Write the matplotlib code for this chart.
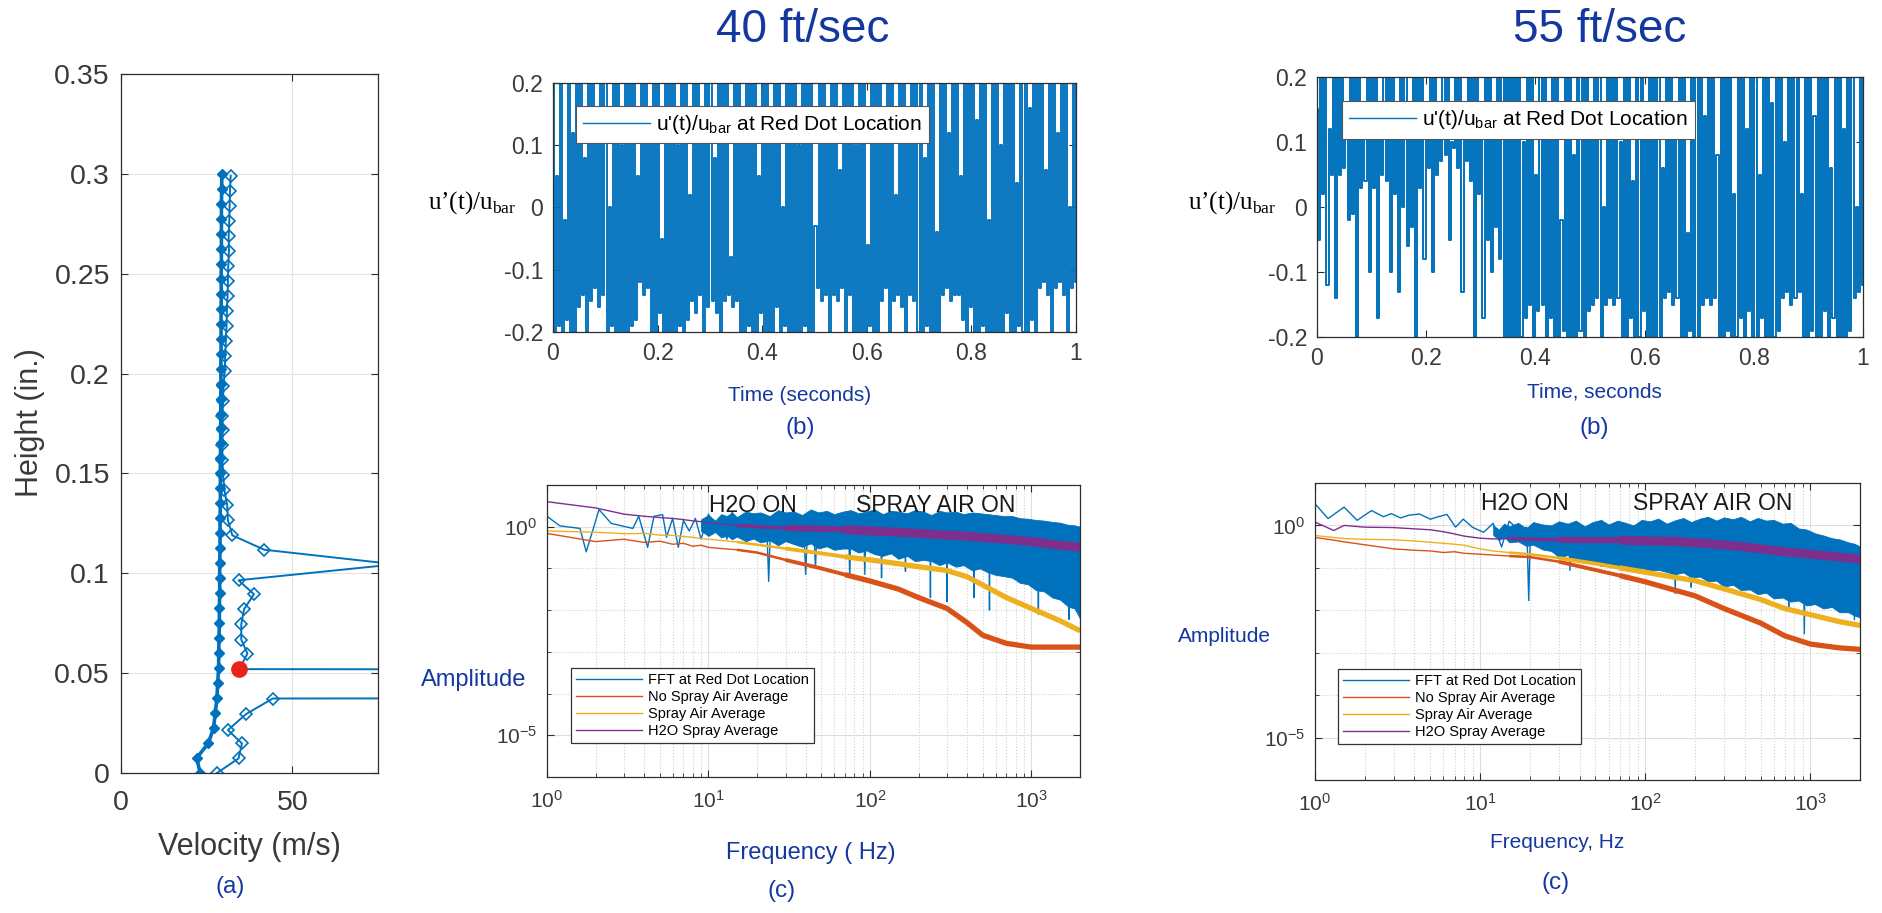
import numpy as np
import matplotlib
matplotlib.use('Agg')
import matplotlib.pyplot as plt
from matplotlib.ticker import FixedLocator, NullFormatter, LogFormatterSciNotation

plt.rcParams['font.family'] = ['Liberation Sans', 'DejaVu Sans']
plt.rcParams['mathtext.fontset'] = 'custom'
plt.rcParams['mathtext.rm'] = 'Liberation Serif'
plt.rcParams['mathtext.sf'] = 'Liberation Sans'
plt.rcParams['axes.unicode_minus'] = False

W, H = 1883, 913
BLUE, ORANGE, YELLOW, PURPLE = '#0072BD', '#D95319', '#EDB120', '#7E2F8E'
NAVY = '#1438a0'
INK = '#3a3a3a'

# ---- (a) velocity profile ----
inner_h = [0, .0075, .015, .0225, .03, .0375, .045, .0525, .06, .0675, .075, .0825, .09, .0975,
           .105, .1125, .12, .1275, .135, .1425, .15, .1575, .165, .1725, .18, .1875, .195, .2025,
           .21, .2175, .225, .2325, .24, .2475, .255, .2625, .27, .2775, .285, .2925, .3]
inner_v = [23.1, 22.1, 25.5, 27.0, 27.5, 28.0, 28.2, 28.5, 28.5, 28.6, 28.7, 28.7, 28.8, 28.8,
           28.8, 28.9, 28.9, 28.9, 29.0, 29.0, 29.0, 29.0, 29.1, 29.1, 29.1, 29.1, 29.2, 29.1,
           29.2, 29.2, 29.2, 29.2, 29.3, 29.2, 29.3, 29.3, 29.3, 29.3, 29.3, 29.4, 29.4]
outer_h = [0.0, 0.0073, 0.0148, 0.0215, 0.0295, 0.0373, 0.045, 0.052, 0.0598, 0.0668, 0.0745,
           0.082, 0.0895, 0.0965, 0.1045, 0.1118, 0.119, 0.1265, 0.134, 0.1415, 0.149, 0.1565,
           0.164, 0.1715, 0.179, 0.1865, 0.194, 0.2015, 0.209, 0.2165, 0.224, 0.2315, 0.239,
           0.2465, 0.254, 0.2615, 0.269, 0.2765, 0.284, 0.2915, 0.299]
outer_v = [28.0, 34.3, 35.3, 31.2, 36.5, 44.3, 5000.0, 34.5, 36.9, 35.1, 35.1,
           35.9, 38.8, 34.3, 80.0, 41.8, 32.5, 31.2, 31.0, 30.2, 29.8, 29.6,
           29.6, 29.7, 29.6, 29.8, 29.9, 30.3, 30.4, 30.6, 30.8, 30.9, 31.1,
           31.2, 31.3, 31.5, 31.4, 31.6, 31.7, 31.8, 32.0]
red_dot_v, red_dot_h = 34.5, 0.052
prof_xticks, prof_xlabels = [0, 50], ['0', '50']
prof_yticks = [0, 0.05, 0.1, 0.15, 0.2, 0.25, 0.3, 0.35]
prof_ylabels = ['0', '0.05', '0.1', '0.15', '0.2', '0.25', '0.3', '0.35']

# ---- (b) u'(t)/u_bar, alternating crest / trough samples ----
u40 = [0.3, -0.2, 0.05, -0.19, 0.3, -0.2, -0.02, -0.18, 0.3, -0.2, 0.12, -0.2, 0.3, -0.16, 0.3, -0.14, 0.08, -0.2, 0.3, -0.15,
       0.3, -0.13, 0.15, -0.16, 0.3, -0.14, 0.3, -0.2, 0.0, -0.19, 0.3, -0.2, 0.3, -0.21, 0.1, -0.2, 0.3, -0.2, 0.3, -0.19,
       0.3, -0.18, 0.05, -0.12, 0.3, -0.14, 0.3, -0.13, 0.12, -0.2, 0.3, -0.2, 0.3, -0.17, -0.05, -0.2, 0.3, -0.2, 0.3, -0.2,
       0.3, -0.2, 0.1, -0.19, 0.3, -0.2, 0.3, -0.18, 0.02, -0.15, 0.3, -0.17, 0.3, -0.14, 0.15, -0.2, 0.3, -0.16, 0.3, -0.15,
       0.08, -0.17, 0.3, -0.2, 0.3, -0.15, 0.3, -0.14, -0.08, -0.16, 0.3, -0.15, 0.3, -0.2, 0.12, -0.2, 0.3, -0.19, 0.3, -0.2,
       0.3, -0.2, 0.05, -0.17, 0.3, -0.2, 0.3, -0.2, 0.14, -0.2, 0.3, -0.16, 0.3, -0.2, 0.0, -0.19, 0.3, -0.2, 0.3, -0.2,
       0.3, -0.2, 0.1, -0.2, 0.3, -0.19, 0.3, -0.2, 0.3, -0.2, -0.03, -0.13, 0.3, -0.15, 0.3, -0.14, 0.16, -0.2, 0.3, -0.14,
       0.3, -0.15, 0.06, -0.13, 0.3, -0.2, 0.3, -0.14, 0.3, -0.2, 0.1, -0.2, 0.3, -0.21, 0.3, -0.2, -0.06, -0.19, 0.3, -0.2,
       0.3, -0.2, 0.3, -0.15, 0.12, -0.13, 0.3, -0.2, 0.3, -0.15, 0.02, -0.14, 0.3, -0.16, 0.3, -0.2, 0.15, -0.14, 0.3, -0.15,
       0.3, -0.2, 0.3, -0.2, 0.08, -0.19, 0.3, -0.2, 0.3, -0.2, -0.04, -0.2, 0.3, -0.14, 0.3, -0.13, 0.12, -0.15, 0.3, -0.14,
       0.3, -0.14, 0.05, -0.18, 0.3, -0.2, 0.3, -0.16, 0.3, -0.2, 0.14, -0.2, 0.3, -0.19, 0.3, -0.2, -0.02, -0.2, 0.3, -0.2,
       0.3, -0.2, 0.1, -0.2, 0.3, -0.17, 0.3, -0.2, 0.3, -0.2, 0.04, -0.19, 0.3, -0.2, 0.3, -0.2, 0.16, -0.18, 0.3, -0.2,
       0.3, -0.13, 0.3, -0.12, 0.06, -0.14, 0.3, -0.2, 0.3, -0.13, 0.12, -0.12, 0.3, -0.14, 0.3, -0.2, 0.0, -0.13, 0.3, -0.12]
u55 = [0.15, -0.05, 0.3, 0.02, 0.3, -0.12, 0.12, 0.05, 0.3, -0.14, 0.3, 0.05, 0.3, 0.06, 0.14, -0.02, 0.3, -0.01, 0.3, -0.2,
       0.3, 0.03, 0.16, 0.04, 0.3, -0.1, 0.3, 0.03, 0.3, -0.17, 0.15, 0.05, 0.3, 0.04, 0.3, -0.1, 0.3, 0.02, 0.12, -0.13,
       0.3, 0.0, 0.3, -0.06, 0.14, -0.03, 0.3, -0.2, 0.3, 0.03, 0.3, -0.08, 0.16, 0.06, 0.3, -0.1, 0.3, 0.05, 0.15, 0.07,
       0.3, 0.08, 0.3, -0.05, 0.1, 0.09, 0.3, 0.06, 0.3, -0.13, 0.14, 0.07, 0.3, 0.04, 0.3, -0.2, 0.3, 0.02, 0.12, -0.17,
       0.3, -0.05, 0.3, -0.1, 0.14, -0.03, 0.3, -0.08, 0.3, -0.2, 0.3, -0.21, 0.3, -0.2, 0.3, -0.21, 0.3, -0.2, 0.1, -0.17,
       0.3, -0.15, 0.3, -0.2, 0.05, -0.16, 0.3, -0.15, 0.3, -0.2, 0.12, -0.17, 0.3, -0.2, 0.3, -0.2, -0.02, -0.19, 0.3, -0.2,
       0.3, -0.2, 0.08, -0.2, 0.3, -0.19, 0.3, -0.2, 0.3, -0.16, 0.14, -0.15, 0.3, -0.14, 0.3, -0.2, 0.0, -0.15, 0.3, -0.14,
       0.3, -0.15, 0.3, -0.14, 0.1, -0.2, 0.3, -0.2, 0.3, -0.17, 0.04, -0.2, 0.3, -0.2, 0.3, -0.16, 0.15, -0.2, 0.3, -0.2,
       0.3, -0.2, 0.3, -0.2, 0.06, -0.14, 0.3, -0.13, 0.3, -0.15, 0.12, -0.14, 0.3, -0.2, 0.3, -0.2, -0.04, -0.19, 0.3, -0.2,
       0.3, -0.2, 0.3, -0.15, 0.14, -0.14, 0.3, -0.15, 0.3, -0.14, 0.08, -0.2, 0.3, -0.2, 0.3, -0.19, 0.3, -0.2, 0.02, -0.2,
       0.3, -0.17, 0.3, -0.2, 0.12, -0.16, 0.3, -0.2, 0.3, -0.2, 0.05, -0.17, 0.3, -0.2, 0.3, -0.2, 0.16, -0.2, 0.3, -0.19,
       0.3, -0.14, 0.1, -0.13, 0.3, -0.15, 0.3, -0.14, 0.3, -0.13, 0.02, -0.2, 0.3, -0.2, 0.3, -0.19, 0.14, -0.2, 0.3, -0.2,
       0.3, -0.16, 0.3, -0.2, 0.06, -0.17, 0.3, -0.2, 0.3, -0.2, 0.12, -0.2, 0.3, -0.19, 0.3, -0.14, 0.0, -0.13, 0.3, -0.12]
time_ticks = [0, 0.2, 0.4, 0.6, 0.8, 1]
time_labels = ['0', '0.2', '0.4', '0.6', '0.8', '1']
u_ticks = [-0.2, -0.1, 0, 0.1, 0.2]
u_labels = ['-0.2', '-0.1', '0', '0.1', '0.2']

# ---- (c) spectra, 40 ft/sec ----
# sparse low-frequency FFT bins plus the deep notches seen in the dense part
fft40_f = [1.0, 1.2, 1.6, 1.75, 2.1, 2.5, 3.4, 3.7, 4.2, 4.6, 5.2, 5.5, 6.0, 6.5, 7.0, 7.6, 8.3, 9.0,
           10, 11, 12, 13, 14, 15, 16, 17, 18,
           23, 23.6, 24.2, 39, 40, 41, 45, 46, 47, 74, 75, 76, 92, 93, 94, 117, 118, 119,
           165, 166, 167, 236, 237, 238, 299, 300, 301, 438, 440, 442, 548, 550, 552,
           1100, 1105, 1110, 1700, 1710, 1720]
fft40_a = [1.78, 1.05, 0.91, 0.25, 2.57, 1.2, 0.91, 1.78, 0.32, 1.78, 1.95, 0.56, 1.58, 0.32, 1.41, 0.79, 1.58, 0.5,
           2.0, 0.79, 1.78, 0.5, 2.24, 0.63, 1.5, 0.6, 1.8,
           0.9, 0.049, 0.9, 0.8, 0.072, 0.8, 0.8, 0.1, 0.8, 0.6, 0.06, 0.6, 0.6, 0.072, 0.6, 0.5, 0.06, 0.5,
           0.5, 0.085, 0.5, 0.4, 0.02, 0.4, 0.4, 0.016, 0.4, 0.3, 0.02, 0.3, 0.3, 0.01, 0.3,
           0.1, 0.008, 0.1, 0.08, 0.006, 0.08]
# spread of the dense FFT bins (upper / lower edge)
band40_f = [9, 10, 11, 12, 13, 14, 15, 17, 19, 21, 24, 27, 30, 34, 38, 43, 48, 54, 60, 68,
            76, 85, 95, 107, 120, 135, 150, 170, 190, 215, 240, 270, 300, 340, 380, 430, 480, 540, 600, 680,
            760, 850, 950, 1070, 1200, 1350, 1500, 1700, 1850, 2000]
band40_hi = [1.5, 1.9, 1.4, 2.0, 1.8, 2.2, 1.7, 2.3, 2.1, 2.2, 1.8, 2.5, 2.2, 2.3, 1.9, 2.6, 2.2, 2.4, 2.0, 2.3,
             2.5, 2.1, 2.3, 2.6, 2.0, 2.4, 2.3, 2.1, 2.5, 2.3, 1.9, 2.4, 2.2, 2.3, 2.0, 2.2, 2.1, 2.0, 1.9, 1.8,
             1.8, 1.6, 1.55, 1.45, 1.4, 1.3, 1.25, 1.1, 1.08, 1.0]
band40_lo = [0.8, 0.6, 0.75, 0.55, 0.62, 0.5, 0.58, 0.45, 0.52, 0.42, 0.47, 0.36, 0.45, 0.38, 0.33, 0.4, 0.3, 0.34, 0.28, 0.3,
             0.3, 0.24, 0.27, 0.22, 0.2, 0.23, 0.17, 0.2, 0.15, 0.16, 0.15, 0.12, 0.14, 0.11, 0.12, 0.09, 0.1, 0.08, 0.07, 0.065,
             0.06, 0.045, 0.042, 0.03, 0.028, 0.02, 0.018, 0.012, 0.011, 0.0063]
avg40_f = [1, 2, 3, 4, 5, 6, 7, 8, 9, 10, 12, 15, 20, 30, 50, 70, 100, 150, 200, 300, 400, 500, 700, 1000, 1500, 2000]
noair40 = [0.69, 0.44, 0.5, 0.42, 0.45, 0.38, 0.4, 0.34, 0.36, 0.32, 0.3, 0.28, 0.24, 0.16, 0.1, 0.071,
           0.05, 0.032, 0.02, 0.011, 0.005, 0.0025, 0.0016, 0.0013, 0.0013, 0.0013]
air40 = [0.79, 0.74, 0.68, 0.69, 0.63, 0.62, 0.58, 0.56, 0.52, 0.5, 0.47, 0.43, 0.37, 0.3, 0.23, 0.19,
         0.16, 0.13, 0.11, 0.089, 0.063, 0.04, 0.02, 0.011, 0.0056, 0.0032]
h2o40 = [3.98, 2.82, 2.0, 1.78, 1.66, 1.58, 1.48, 1.38, 1.32, 1.26, 1.17, 1.07, 1.0, 0.93, 0.89, 0.85,
         0.79, 0.74, 0.69, 0.63, 0.59, 0.55, 0.5, 0.44, 0.36, 0.32]

# ---- (c) spectra, 55 ft/sec ----
fft55_f = [1.0, 1.2, 1.5, 1.8, 2.2, 2.6, 2.9, 3.3, 3.7, 4.3, 5.0, 5.5, 6.3, 7.1, 7.9, 9.0, 10.5, 12,
           13.5, 15, 17, 19.2, 19.7, 20.2, 22,
           34.5, 35, 35.5, 150, 152, 154, 189, 190, 191, 288, 290, 292, 525, 530, 535,
           735, 740, 745, 910, 920, 930, 1830, 1850, 1870]
fft55_a = [3.24, 1.45, 2.7, 1.32, 2.24, 1.6, 1.9, 1.5, 1.74, 1.86, 1.4, 1.58, 1.82, 0.91, 1.41, 0.9, 0.69, 1.12,
           0.31, 1.26, 0.8, 0.9, 0.017, 0.9, 1.0,
           0.5, 0.087, 0.5, 0.5, 0.025, 0.5, 0.5, 0.035, 0.5, 0.4, 0.05, 0.4, 0.3, 0.03, 0.3,
           0.2, 0.01, 0.2, 0.15, 0.0028, 0.15, 0.1, 0.006, 0.1]
band55_f = [12, 13, 14, 15, 17, 19, 21, 24, 27, 30, 34, 38, 43, 48, 54, 60, 68, 76, 85, 95,
            107, 120, 135, 150, 170, 190, 215, 240, 270, 300, 340, 380, 430, 480, 540, 600, 680, 760, 850, 950,
            1070, 1200, 1350, 1500, 1700, 1850, 2000]
band55_hi = [1.0, 0.8, 1.1, 0.95, 1.15, 0.85, 1.2, 1.05, 1.0, 1.25, 1.1, 1.3, 0.95, 1.2, 1.35, 1.05, 1.3, 1.15, 1.0, 1.35,
             1.25, 1.45, 1.1, 1.3, 1.5, 1.2, 1.45, 1.6, 1.3, 1.55, 1.4, 1.6, 1.25, 1.5, 1.3, 1.35, 1.1, 1.15, 0.85, 0.8,
             0.65, 0.58, 0.5, 0.47, 0.4, 0.37, 0.32]
band55_lo = [0.6, 0.45, 0.55, 0.4, 0.42, 0.33, 0.35, 0.27, 0.25, 0.18, 0.2, 0.15, 0.13, 0.14, 0.11, 0.12, 0.1, 0.11, 0.09, 0.1,
             0.085, 0.09, 0.08, 0.07, 0.078, 0.06, 0.062, 0.048, 0.05, 0.036, 0.04, 0.03, 0.031, 0.024, 0.026, 0.019, 0.02, 0.016,
             0.017, 0.013, 0.014, 0.011, 0.012, 0.009, 0.009, 0.0075, 0.0068]
avg55_f = [1, 1.3, 1.5, 2, 3, 4, 5, 6, 7, 8, 10, 12, 15, 20, 30, 50, 70, 100, 150, 200, 300, 500, 700, 1000, 1500, 2000]
noair55 = [0.52, 0.45, 0.41, 0.35, 0.28, 0.26, 0.25, 0.23, 0.24, 0.22, 0.21, 0.2, 0.19, 0.18, 0.14, 0.089,
           0.066, 0.047, 0.03, 0.022, 0.011, 0.005, 0.0025, 0.0016, 0.0013, 0.0012]
air55 = [0.58, 0.52, 0.49, 0.47, 0.46, 0.43, 0.4, 0.38, 0.36, 0.34, 0.28, 0.25, 0.23, 0.21, 0.17, 0.126,
         0.1, 0.079, 0.06, 0.05, 0.032, 0.018, 0.011, 0.0079, 0.0054, 0.0044]
h2o55 = [1.2, 0.76, 1.0, 0.91, 0.89, 0.83, 0.79, 0.71, 0.63, 0.56, 0.5, 0.48, 0.49, 0.47, 0.46, 0.45,
         0.45, 0.43, 0.42, 0.39, 0.35, 0.28, 0.24, 0.21, 0.18, 0.16]

fft_labels = ['FFT at Red Dot Location', 'No Spray Air Average', 'Spray Air Average', 'H2O Spray Average']

fig = plt.figure(figsize=(W / 100, H / 100), dpi=100)


def box(x0, y0, x1, y1):
    return [x0 / W, 1 - y1 / H, (x1 - x0) / W, (y1 - y0) / H]


def ftext(x, y, s, **kw):
    fig.text(x / W, 1 - y / H, s, ha='center', va='center', **kw)


def frame(ax, size, pad):
    for sp in ax.spines.values():
        sp.set_color('#2e2e2e')
        sp.set_linewidth(0.9)
    ax.tick_params(which='both', direction='in', top=True, right=True, labelsize=size,
                   labelcolor=INK, color='#2e2e2e', pad=pad)
    ax.tick_params(which='major', length=5)
    ax.tick_params(which='minor', length=3)


# velocity profile
ax = fig.add_axes(box(121, 74, 378, 773))
ax.plot(outer_v, outer_h, '-D', color=BLUE, lw=1.4, ms=6, mfc='none', mew=1.2)
ax.plot(inner_v, inner_h, '-D', color=BLUE, lw=2.6, ms=5.5, mec=BLUE)
ax.plot([red_dot_v], [red_dot_h], 'o', color='#e8231a', ms=11, zorder=5)
ax.set_xlim(0, 75)
ax.set_ylim(0, 0.35)
ax.set_xticks(prof_xticks)
ax.set_xticklabels(prof_xlabels)
ax.set_yticks(prof_yticks)
ax.set_yticklabels(prof_ylabels)
ax.grid(color='#e4e4e4', lw=0.8)
ax.set_axisbelow(True)
frame(ax, 20.5, 12)
ax.tick_params(axis='y', pad=8)
ftext(30, 423, 'Height (in.)', rotation=90, fontsize=22, color=INK)
ftext(249, 847, 'Velocity (m/s)', fontsize=22, color=INK)
ftext(230, 887, '(a)', fontsize=17.5, color=NAVY)


# time histories (sample-and-hold so each sample reads as a vertical stroke)
def time_panel(rect, u, legend_at, lw):
    ax = fig.add_axes(box(*rect))
    t = np.linspace(0, 1, len(u))
    ln, = ax.plot(t, u, color=BLUE, lw=lw, drawstyle='steps-mid')
    ax.set_xlim(0, 1)
    ax.set_ylim(-0.2, 0.2)
    ax.set_xticks(time_ticks)
    ax.set_xticklabels(time_labels)
    ax.set_yticks(u_ticks)
    ax.set_yticklabels(u_labels)
    frame(ax, 16.5, 7)
    leg = ax.legend([ln], [r"u'(t)/u$_{\mathsf{bar}}$ at Red Dot Location"], loc='upper left',
                    bbox_to_anchor=legend_at, borderaxespad=0, fontsize=15, handlelength=3.2,
                    handletextpad=0.3, borderpad=0.35, fancybox=False, framealpha=1,
                    edgecolor='#555555')
    leg.get_frame().set_linewidth(0.8)
    leg.get_lines()[0].set_linewidth(1.0)
    return ax


time_panel((553, 83, 1076, 332), u40, (0.044, 0.908), 1.35)
time_panel((1317, 77, 1863, 337), u55, (0.046, 0.908), 1.4)

ylab = "u\u2019(t)/u$_{\\mathrm{bar}}$"
ftext(472, 203, ylab, fontsize=18, family='Liberation Serif', color='black')
ftext(1232, 203, ylab, fontsize=18, family='Liberation Serif', color='black')
ftext(803, 30, '40 ft/sec', fontsize=33, color=NAVY)
ftext(1600, 30, '55 ft/sec', fontsize=33, color=NAVY)
ftext(800, 395, 'Time (seconds)', fontsize=15, color=NAVY)
ftext(800, 428, '(b)', fontsize=17.5, color=NAVY)
ftext(1594, 392, 'Time, seconds', fontsize=15, color=NAVY)
ftext(1594, 428, '(b)', fontsize=17.5, color=NAVY)


# spectra
def spectrum_panel(rect, fft_f, fft_a, band_f, band_lo, band_hi, avg_f, noair, air, h2o, leg_at):
    ax = fig.add_axes(box(*rect))
    ax.set_xscale('log')
    ax.set_yscale('log')
    ax.fill_between(band_f, band_lo, band_hi, color=BLUE, lw=0.6, edgecolor=BLUE)
    h_fft, = ax.plot(fft_f, fft_a, color=BLUE, lw=1.0)
    handles = [h_fft]
    f = np.asarray(avg_f)
    for vals, col, widths in [(noair, ORANGE, (1.8, 2.8, 3.8)), (air, YELLOW, (1.8, 2.8, 3.8)),
                              (h2o, PURPLE, (2.5, 4.5, 6.5))]:
        v = np.asarray(vals)
        h, = ax.plot(f, v, color=col, lw=1.0)
        for fmin, w in zip((15, 30, 70), widths):
            ax.plot(f[f >= fmin], v[f >= fmin], color=col, lw=w, solid_capstyle='butt')
        handles.append(h)
    ax.set_xlim(1, 2000)
    ax.set_ylim(1e-6, 1e1)
    ax.xaxis.set_major_locator(FixedLocator([1, 10, 100, 1000]))
    ax.xaxis.set_minor_locator(FixedLocator([m * 10 ** e for e in range(4) for m in range(2, 10)
                                             if m * 10 ** e <= 2000]))
    ax.yaxis.set_major_locator(FixedLocator([1e-5, 1e0]))
    ax.yaxis.set_minor_locator(FixedLocator([1e-6, 1e-4, 1e-3, 1e-2, 1e-1, 1e1]))
    ax.xaxis.set_major_formatter(LogFormatterSciNotation())
    ax.yaxis.set_major_formatter(LogFormatterSciNotation())
    ax.xaxis.set_minor_formatter(NullFormatter())
    ax.yaxis.set_minor_formatter(NullFormatter())
    ax.grid(which='major', color='#dedede', lw=0.8)
    ax.grid(which='minor', color='#cfcfcf', lw=0.8, ls=':')
    ax.set_axisbelow(True)
    frame(ax, 15, 7)
    ax.tick_params(axis='x', pad=9)
    leg = ax.legend(handles, fft_labels, loc='upper left', bbox_to_anchor=leg_at, borderaxespad=0,
                    fontsize=10.5, handlelength=4.5, handletextpad=0.45, labelspacing=0.2,
                    borderpad=0.35, fancybox=False, framealpha=1, edgecolor='#333333')
    leg.get_frame().set_linewidth(0.9)
    ax.text(0.386, 0.93, 'H2O ON', transform=ax.transAxes, ha='center', va='center',
            fontsize=16.5, color='#1a1a1a')
    ax.text(0.73, 0.93, 'SPRAY AIR ON', transform=ax.transAxes, ha='center', va='center',
            fontsize=16.5, color='#1a1a1a')
    return ax


spectrum_panel((547, 485, 1080, 777), fft40_f, fft40_a, band40_f, band40_lo, band40_hi,
               avg40_f, noair40, air40, h2o40, (0.045, 0.373))
spectrum_panel((1315, 483, 1860, 780), fft55_f, fft55_a, band55_f, band55_lo, band55_hi,
               avg55_f, noair55, air55, h2o55, (0.042, 0.374))

ftext(474, 680, 'Amplitude', fontsize=17, color=NAVY)
ftext(1224, 637, 'Amplitude', fontsize=15, color=NAVY)
ftext(811, 853, 'Frequency ( Hz)', fontsize=17, color=NAVY)
ftext(782, 891, '(c)', fontsize=17.5, color=NAVY)
ftext(1557, 842, 'Frequency, Hz', fontsize=15, color=NAVY)
ftext(1556, 883, '(c)', fontsize=17.5, color=NAVY)

fig.savefig('out.png', dpi=100, facecolor='white')
